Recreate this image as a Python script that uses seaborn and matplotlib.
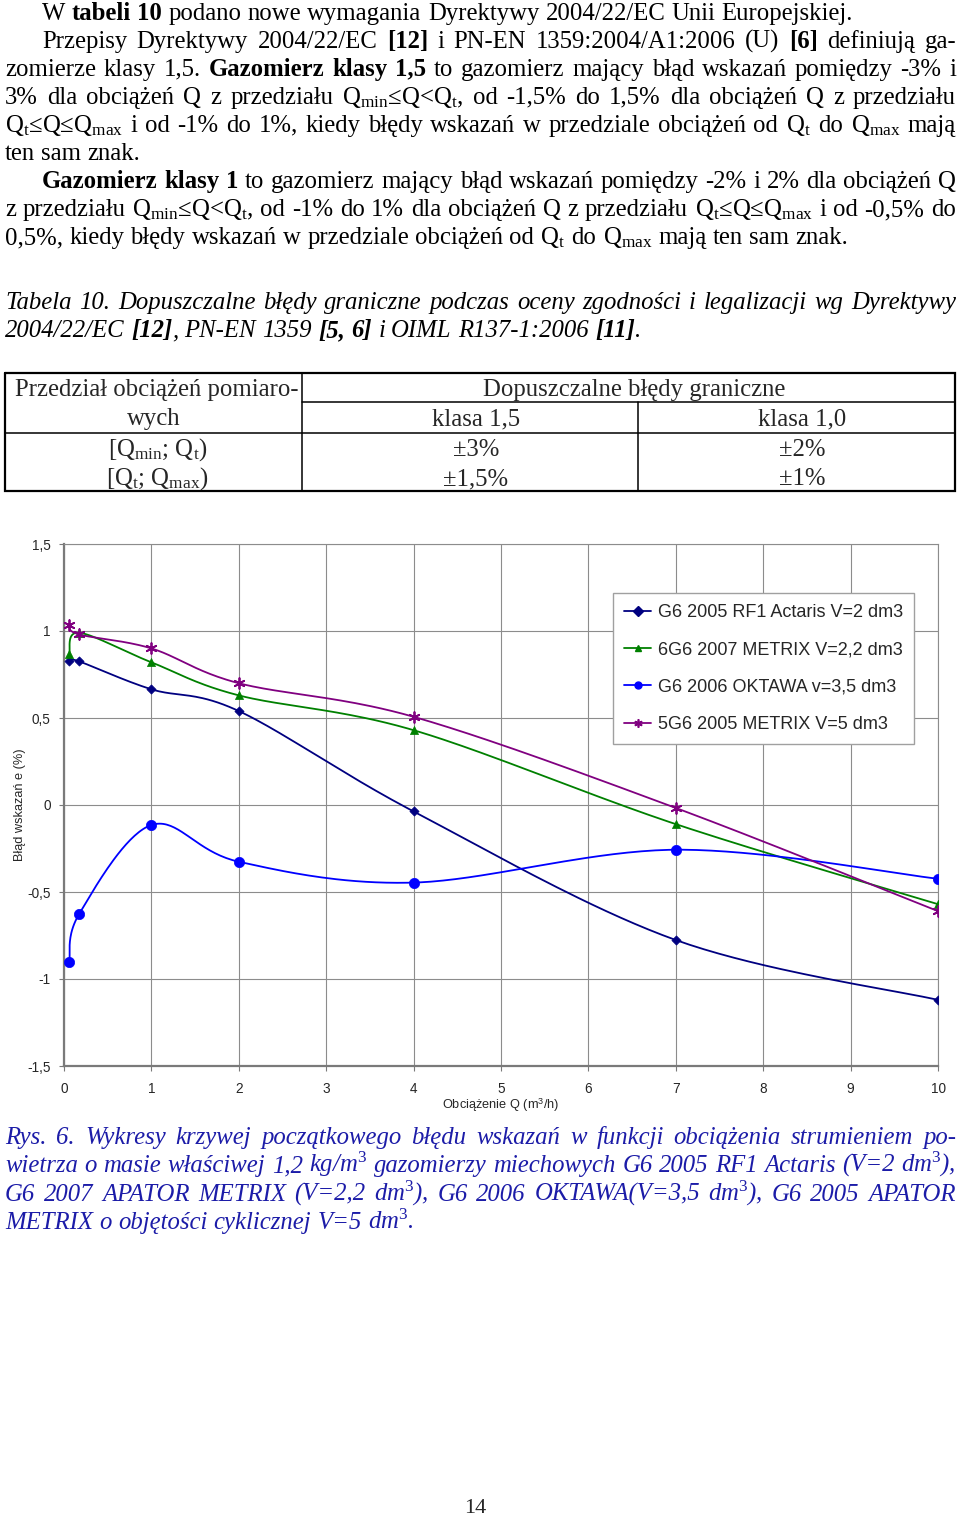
import matplotlib
matplotlib.use("Agg")
import numpy as np
import pandas as pd
import matplotlib.pyplot as plt
import seaborn as sns
from matplotlib.lines import Line2D

# ---------------- data ----------------
q_load = [0.06, 0.175, 1, 2, 4, 7, 10]
err_actaris = [0.83, 0.825, 0.665, 0.54, -0.037, -0.776, -1.12]
err_metrix22 = [0.87, 0.99, 0.82, 0.63, 0.43, -0.11, -0.57]
err_oktawa = [-0.90, -0.625, -0.115, -0.326, -0.446, -0.257, -0.424]
err_metrix5 = [1.032, 0.98, 0.90, 0.70, 0.507, -0.017, -0.61]
series_names = ["G6 2005 RF1 Actaris V=2 dm3", "6G6 2007 METRIX V=2,2 dm3",
                "G6 2006 OKTAWA v=3,5 dm3", "5G6 2005 METRIX V=5 dm3"]
x_ticks = [0, 1, 2, 3, 4, 5, 6, 7, 8, 9, 10]
y_ticks = [-1.5, -1, -0.5, 0, 0.5, 1, 1.5]
y_tick_labels = ["-1,5", "-1", "-0,5", "0", "0,5", "1", "1,5"]

# ---------------- style ----------------
sns.set_theme(style="white")
plt.rcParams["font.family"] = ["Liberation Serif", "DejaVu Serif"]
plt.rcParams["mathtext.fontset"] = "custom"
plt.rcParams["mathtext.rm"] = "Liberation Serif"
plt.rcParams["mathtext.it"] = "Liberation Serif:italic"
plt.rcParams["mathtext.bf"] = "Liberation Serif:bold"

W, H = 960, 1517
fig = plt.figure(figsize=(W / 100, H / 100), dpi=100)
fig.patch.set_facecolor("white")
page = fig.add_axes([0, 0, 1, 1])
page.set_xlim(0, W)
page.set_ylim(H, 0)
page.axis("off")
renderer = fig.canvas.get_renderer()

BODY = 17.8
BLUE_TXT = "#1c1ca8"


def parse(line):
    words = [[]]
    for i, seg in enumerate(line.split("**")):
        bold = (i % 2 == 1)
        parts = seg.split(" ")
        for j, p in enumerate(parts):
            if j > 0:
                words.append([])
            if p:
                words[-1].append((p, bold))
    return [w for w in words if w]


def draw_line(line, x0, x1, y, justify=True, size=BODY, style="normal", color="black"):
    words = parse(line)
    objs = []
    widths = []
    for w in words:
        pieces = []
        ww = 0
        for txt, bold in w:
            t = page.text(0, y, txt, fontsize=size, fontstyle=style,
                          fontweight="bold" if bold else "normal",
                          color=color, va="baseline", ha="left")
            bw = t.get_window_extent(renderer).width
            pieces.append((t, bw))
            ww += bw
        objs.append(pieces)
        widths.append(ww)
    sp = page.text(0, y, "a a", fontsize=size, fontstyle=style)
    sp2 = page.text(0, y, "aa", fontsize=size, fontstyle=style)
    space = sp.get_window_extent(renderer).width - sp2.get_window_extent(renderer).width
    sp.remove(); sp2.remove()
    if justify and len(words) > 1:
        gap = (x1 - x0 - sum(widths)) / (len(words) - 1)
    else:
        gap = space
    x = x0
    for pieces, ww in zip(objs, widths):
        xx = x
        for t, bw in pieces:
            t.set_x(xx)
            xx += bw
        x += ww + gap


# ---------------- body text ----------------
L = 5
R = 956
IND = 42
draw_line("W **tabeli 10** podano nowe wymagania Dyrektywy 2004/22/EC Unii Europejskiej.", IND, R, 19.5, justify=False)
draw_line("Przepisy Dyrektywy 2004/22/EC **[12]** i PN-EN 1359:2004/A1:2006 (U) **[6]** definiują ga-", IND, R, 47.5)
draw_line("zomierze klasy 1,5. **Gazomierz klasy 1,5** to gazomierz mający błąd wskazań pomiędzy -3% i", L, R, 75.5)
draw_line(r"3% dla obciążeń Q z przedziału Q$_\mathrm{min}$≤Q<Q$_\mathrm{t}$, od -1,5% do 1,5% dla obciążeń Q z przedziału", L, R, 103.5)
draw_line(r"Q$_\mathrm{t}$≤Q≤Q$_\mathrm{max}$ i od -1% do 1%, kiedy błędy wskazań w przedziale obciążeń od Q$_\mathrm{t}$ do Q$_\mathrm{max}$ mają", L, R, 131.5)
draw_line("ten sam znak.", L, R, 160, justify=False)
draw_line("**Gazomierz klasy 1** to gazomierz mający błąd wskazań pomiędzy -2% i 2% dla obciążeń Q", IND, R, 187.5)
draw_line(r"z przedziału Q$_\mathrm{min}$≤Q<Q$_\mathrm{t}$, od -1% do 1% dla obciążeń Q z przedziału Q$_\mathrm{t}$≤Q≤Q$_\mathrm{max}$ i od -0,5% do", L, R, 216)
draw_line(r"0,5%, kiedy błędy wskazań w przedziale obciążeń od Q$_\mathrm{t}$ do Q$_\mathrm{max}$ mają ten sam znak.", L, R, 244, justify=False)

draw_line("Tabela 10. Dopuszczalne błędy  graniczne podczas oceny zgodności i legalizacji wg Dyrektywy", L, R, 309, style="italic")
draw_line("2004/22/EC **[12]**,  PN-EN 1359 **[5, 6]** i OIML R137-1:2006 **[11]**.", L, R, 337, justify=False, style="italic")

# ---------------- table ----------------
tl, tr, tt, tb = 5, 955, 373, 491
c1, c2 = 302, 638
rmid, rhead = 402, 433
page.plot([tl, tr, tr, tl, tl], [tt, tt, tb, tb, tt], color="black", lw=1.6, solid_joinstyle="miter")
page.plot([c1, c1], [tt, tb], color="black", lw=1.1)
page.plot([c2, c2], [rmid, tb], color="black", lw=1.1)
page.plot([c1, tr], [rmid, rmid], color="black", lw=1.1)
page.plot([tl, tr], [rhead, rhead], color="black", lw=1.1)

cells = [
    ("Przedział obciążeń pomiaro-", (tl + c1) / 2 + 3, 396),
    ("wych", (tl + c1) / 2, 425),
    (r"[Q$_\mathrm{min}$; Q$_\mathrm{t}$)", (tl + c1) / 2 + 4, 456),
    (r"[Q$_\mathrm{t}$; Q$_\mathrm{max}$)", (tl + c1) / 2 + 4, 485),
    ("Dopuszczalne błędy graniczne", (c1 + tr) / 2 + 6, 396),
    ("klasa 1,5", (c1 + c2) / 2 + 6, 425),
    ("klasa 1,0", (c2 + tr) / 2 + 6, 425),
    ("±3%", (c1 + c2) / 2 + 6, 456),
    ("±1,5%", (c1 + c2) / 2 + 6, 485),
    ("±2%", (c2 + tr) / 2 + 6, 456),
    ("±1%", (c2 + tr) / 2 + 6, 485),
]
for txt, x, y in cells:
    page.text(x, y, txt, fontsize=BODY, ha="center", va="baseline")

# ---------------- chart ----------------
ax_l, ax_r, ax_t, ax_b = 64, 938, 544, 1066
ax = fig.add_axes([ax_l / W, 1 - ax_b / H, (ax_r - ax_l) / W, (ax_b - ax_t) / H])
ax.set_facecolor("white")
sx = (ax_r - ax_l) / 10.0
sy = (ax_b - ax_t) / 3.0


def smooth(xs, ys, n=40):
    P = np.column_stack([np.asarray(xs, float) * sx, np.asarray(ys, float) * sy])
    out = []
    for i in range(len(P) - 1):
        p0 = P[max(i - 1, 0)]
        p1 = P[i]
        p2 = P[i + 1]
        p3 = P[min(i + 2, len(P) - 1)]
        b1 = p1 + (p2 - p0) / 6.0
        b2 = p2 - (p3 - p1) / 6.0
        t = np.linspace(0, 1, n)[:, None]
        seg = (1 - t) ** 3 * p1 + 3 * (1 - t) ** 2 * t * b1 + 3 * (1 - t) * t ** 2 * b2 + t ** 3 * p2
        out.append(seg if i == 0 else seg[1:])
    arr = np.vstack(out)
    return arr[:, 0] / sx, arr[:, 1] / sy


specs = [
    (err_actaris, "#000080", "D", 22, None),
    (err_metrix22, "#008000", "^", 34, None),
    (err_oktawa, "#0000ff", "o", 55, None),
    (err_metrix5, "#800080", (6, 2, 0), 60, 1.3),
]

for vals, col, mk, s, lwm in specs:
    xs_, ys_ = smooth(q_load, vals)
    sns.lineplot(x=xs_, y=ys_, sort=False, estimator=None, color=col, lw=1.3, ax=ax, zorder=3)
for vals, col, mk, s, lwm in specs:
    df = pd.DataFrame({"q": q_load, "e": vals})
    if lwm is None:
        sns.scatterplot(data=df, x="q", y="e", marker=mk, s=s, color=col, edgecolor=col,
                        linewidth=0.5, ax=ax, zorder=4)
    else:
        sns.scatterplot(data=df, x="q", y="e", marker=mk, s=s, color=col,
                        linewidth=lwm, ax=ax, zorder=4)

ax.set_xlim(0, 10)
ax.set_ylim(-1.5, 1.5)
ax.set_xticks(x_ticks)
ax.set_xticklabels([str(v) for v in x_ticks])
ax.set_yticks(y_ticks)
ax.set_yticklabels(y_tick_labels)
ax.grid(True, color="#8c8c8c", lw=0.8)
ax.set_axisbelow(True)
for side in ["top", "right"]:
    ax.spines[side].set_color("#8c8c8c")
    ax.spines[side].set_linewidth(0.8)
for side in ["left", "bottom"]:
    ax.spines[side].set_color("#7a7a7a")
    ax.spines[side].set_linewidth(1.6)
ax.tick_params(axis="both", which="major", direction="out", length=3.5, width=0.8,
               color="#7a7a7a", labelsize=9.8, left=True, bottom=True)
ax.tick_params(axis="y", pad=6)
ax.tick_params(axis="x", pad=8)
for lab in ax.get_xticklabels() + ax.get_yticklabels():
    lab.set_fontfamily(["Liberation Sans", "DejaVu Sans"])

ax.set_xlabel(r"Obciążenie Q (m$^\mathregular{3}$/h)", fontsize=9.2,
              family=["Liberation Sans", "DejaVu Sans"])
ax.set_ylabel("Błąd wskazań e (%)", fontsize=9.2, family=["Liberation Sans", "DejaVu Sans"])
ax.xaxis.set_label_coords((501 - ax_l) / (ax_r - ax_l), -(1096 - ax_b) / (ax_b - ax_t))
ax.yaxis.set_label_coords(-(ax_l - 26) / (ax_r - ax_l), 0.5)

handles = []
for (vals, col, mk, s, lwm), name in zip(specs, series_names):
    handles.append(Line2D([], [], color=col, lw=1.3, marker=mk,
                          markersize=5 if lwm is None else 6,
                          markeredgewidth=1.0 if lwm is None else 1.2,
                          markerfacecolor=col, markeredgecolor=col, label=name))
leg = ax.legend(handles=handles, loc="upper left",
                bbox_to_anchor=((613 - ax_l) / (ax_r - ax_l), (ax_b - 593) / (ax_b - ax_t)),
                borderaxespad=0, frameon=True, fancybox=False, framealpha=1,
                edgecolor="#a0a0a0", fontsize=13, labelspacing=1.12, borderpad=0.62,
                handlelength=1.5, handletextpad=0.35,
                prop={"family": ["Liberation Sans", "DejaVu Sans"], "size": 13})
leg.get_frame().set_linewidth(1.0)

# ---------------- figure caption ----------------
draw_line("Rys. 6. Wykresy  krzywej początkowego błędu wskazań  w funkcji obciążenia  strumieniem po-",
          L, R, 1144, style="italic", color=BLUE_TXT)
draw_line(r"wietrza o masie właściwej 1,2 kg/m$^{\mathit{3}}$ gazomierzy miechowych G6 2005 RF1 Actaris (V=2 dm$^{\mathit{3}}$),",
          L, R, 1172, style="italic", color=BLUE_TXT)
draw_line(r"G6 2007 APATOR METRIX (V=2,2 dm$^{\mathit{3}}$), G6 2006 OKTAWA(V=3,5 dm$^{\mathit{3}}$), G6 2005 APATOR",
          L, R, 1201, style="italic", color=BLUE_TXT)
draw_line(r"METRIX  o objętości cyklicznej V=5 dm$^{\mathit{3}}$.",
          L, R, 1229, justify=False, style="italic", color=BLUE_TXT)

page.text(475, 1513, "14", fontsize=16, ha="center", va="baseline")

fig.savefig("out.png", dpi=100, facecolor="white")
